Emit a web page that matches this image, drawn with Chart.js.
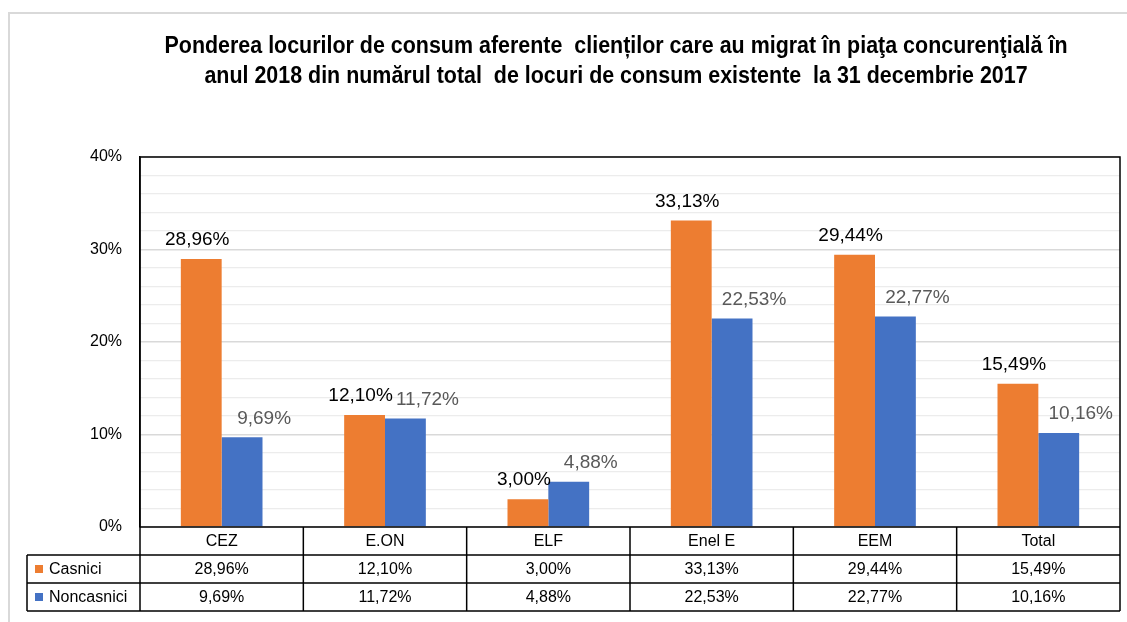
<!DOCTYPE html>
<html>
<head>
<meta charset="utf-8">
<script src="https://cdn.jsdelivr.net/npm/chart.js@4"></script>
<style>
  body { margin: 0; background: #fff; }
  #wrap { position: relative; width: 1127px; height: 622px; }
  #frame { position: absolute; left: 8px; top: 12px; right: -4px; bottom: -4px;
           border-top: 2px solid #d9d9d9; border-left: 2px solid #d9d9d9; }
  canvas { position: absolute; left: 0; top: 0; }
</style>
</head>
<body>
<div id="wrap">
  <div id="frame"></div>
  <canvas id="chart" width="1127" height="622"></canvas>
</div>
<script>
const categories = ['CEZ', 'E.ON', 'ELF', 'Enel E', 'EEM', 'Total'];
const casnici = [28.96, 12.10, 3.00, 33.13, 29.44, 15.49];
const noncasnici = [9.69, 11.72, 4.88, 22.53, 22.77, 10.16];
const seriesNames = ['Casnici', 'Noncasnici'];
const seriesColors = ['#ED7D31', '#4472C4'];
const titleLines = [
    'Ponderea locurilor de consum aferente  clienților care au migrat în piaţa concurenţială în',
    'anul 2018 din numărul total  de locuri de consum existente  la 31 decembrie 2017'
];

const fmt = v => v.toFixed(2).replace('.', ',') + '%';
const FONT = '"Liberation Sans", Arial, sans-serif';

// condensed bold title (Arial Narrow look), centred over the plot
const narrowTitle = {
    id: 'narrowTitle',
    afterDraw(chart) {
        const ctx = chart.ctx;
        ctx.save();
        ctx.fillStyle = '#000';
        ctx.font = 'bold 23px ' + FONT;
        ctx.textAlign = 'center';
        ctx.textBaseline = 'middle';
        const w0 = ctx.measureText(titleLines[0]).width;
        const sx = 903 / w0;
        ctx.translate(616, 0);
        ctx.scale(sx, 1);
        ctx.fillText(titleLines[0], 0, 47);
        ctx.fillText(titleLines[1], 0, 77);
        ctx.restore();
    }
};

// value labels above the bars (Excel style, blue ones shifted right)
const barLabels = {
    id: 'barLabels',
    afterDatasetsDraw(chart) {
        const ctx = chart.ctx;
        ctx.save();
        ctx.font = '19px ' + FONT;
        ctx.textAlign = 'center';
        ctx.textBaseline = 'middle';
        chart.data.datasets.forEach((ds, di) => {
            const meta = chart.getDatasetMeta(di);
            ctx.fillStyle = di === 0 ? '#000' : '#595959';
            const dx = di === 0 ? -4 : 22;
            meta.data.forEach((bar, i) => {
                ctx.fillText(fmt(ds.data[i]), bar.x + dx, bar.y - 19);
            });
        });
        ctx.restore();
    }
};

// plot frame + data table under the chart
const dataTable = {
    id: 'dataTable',
    afterDraw(chart) {
        const ctx = chart.ctx;
        const area = chart.chartArea;
        const xs = chart.scales.x;
        const n = categories.length;
        const colW = (area.right - area.left) / n;
        const rowH = 28;
        const y0 = area.bottom;
        const legendLeft = 27;
        ctx.save();
        ctx.strokeStyle = '#000';
        ctx.lineWidth = 1.5;
        ctx.beginPath();
        ctx.moveTo(area.left, area.top);
        ctx.lineTo(area.right, area.top);
        ctx.lineTo(area.right, y0 + rowH * 3);
        ctx.moveTo(area.left, area.top);
        ctx.lineTo(area.left, y0 + rowH * 3);
        ctx.moveTo(area.left, y0);
        ctx.lineTo(area.right, y0);
        for (let r = 1; r <= 3; r++) {
            ctx.moveTo(legendLeft, y0 + rowH * r);
            ctx.lineTo(area.right, y0 + rowH * r);
        }
        for (let i = 1; i < n; i++) {
            const x = area.left + colW * i;
            ctx.moveTo(x, y0);
            ctx.lineTo(x, y0 + rowH * 3);
        }
        ctx.moveTo(legendLeft, y0 + rowH);
        ctx.lineTo(legendLeft, y0 + rowH * 3);
        ctx.stroke();

        ctx.fillStyle = '#000';
        ctx.font = '16px ' + FONT;
        ctx.textAlign = 'center';
        ctx.textBaseline = 'middle';
        const rows = [casnici, noncasnici];
        categories.forEach((c, i) => {
            const cx = xs.getPixelForValue(i);
            ctx.fillText(c, cx, y0 + rowH / 2 + 1);
            rows.forEach((vals, r) => {
                ctx.fillText(fmt(vals[i]), cx, y0 + rowH * (r + 1) + rowH / 2 + 1);
            });
        });
        ctx.textAlign = 'left';
        seriesNames.forEach((name, r) => {
            const cy = y0 + rowH * (r + 1) + rowH / 2;
            ctx.fillStyle = seriesColors[r];
            ctx.fillRect(35, cy - 4, 8, 8);
            ctx.fillStyle = '#000';
            ctx.fillText(name, 49, cy + 1);
        });
        ctx.restore();
    }
};

new Chart(document.getElementById('chart'), {
    type: 'bar',
    data: {
        labels: categories,
        datasets: [
            { label: seriesNames[0], data: casnici, backgroundColor: seriesColors[0] },
            { label: seriesNames[1], data: noncasnici, backgroundColor: seriesColors[1] }
        ]
    },
    options: {
        responsive: false,
        animation: false,
        events: [],
        layout: { padding: { left: 0, top: 157, right: 7, bottom: 95 } },
        datasets: {
            bar: { categoryPercentage: 0.5, barPercentage: 1.0 }
        },
        plugins: {
            legend: { display: false },
            tooltip: { enabled: false },
            title: { display: false }
        },
        scales: {
            x: {
                display: false
            },
            y: {
                min: 0,
                max: 40,
                afterFit(s) { s.width = 140; },
                ticks: {
                    stepSize: 2,
                    maxTicksLimit: 30,
                    padding: 18,
                    color: '#000',
                    font: { family: FONT, size: 16, lineHeight: 0.8 },
                    callback: v => (v % 10 === 0 ? v + '%' : '')
                },
                grid: {
                    drawTicks: false,
                    color: ctx => (ctx.tick && ctx.tick.value % 10 === 0 ? '#d9d9d9' : '#ececec'),
                    lineWidth: ctx => (ctx.tick && ctx.tick.value % 10 === 0 ? 1.5 : 1.2)
                },
                border: { display: true, color: '#000', width: 1.5 }
            }
        }
    },
    plugins: [barLabels, dataTable, narrowTitle]
});
</script>
</body>
</html>
